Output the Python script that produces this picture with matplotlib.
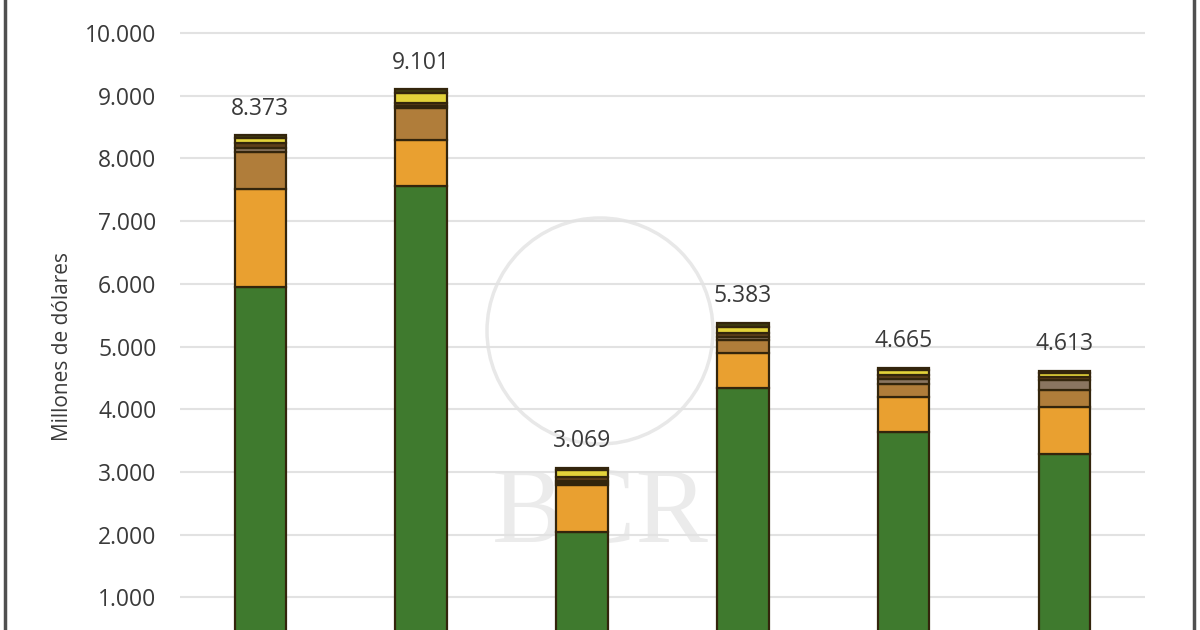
import matplotlib.pyplot as plt
from matplotlib.lines import Line2D
from matplotlib.patches import Ellipse
import numpy as np

plt.rcParams['font.family'] = ['Open Sans', 'DejaVu Sans']

# valores en millones de dólares (de abajo hacia arriba en cada barra)
totales = [8373, 9101, 3069, 5383, 4665, 4613]
verde = [5950, 7560, 2050, 4340, 3640, 3280]
naranja = [1570, 735, 750, 560, 550, 755]
marron = [590, 505, 20, 200, 220, 280]
gris_marron = [60, 40, 30, 50, 70, 150]
marron_osc = [70, 50, 70, 60, 60, 45]
amarillo = [80, 150, 110, 110, 80, 70]
tope = [53, 61, 39, 63, 45, 33]

series = [verde, naranja, marron, gris_marron, marron_osc, amarillo, tope]
colores = ['#3f7a2e', '#e9a030', '#b07d3a', '#8a7560', '#5e3f1a', '#e3d23a', '#3d3a10']
yticks = [1000, 2000, 3000, 4000, 5000, 6000, 7000, 8000, 9000, 10000]


def miles(v):
    return f"{v:,}".replace(",", ".")


fig = plt.figure(figsize=(12, 6.3), dpi=100)
ax = fig.add_axes([0.15, 0.0, 0.804, 1.0])

x = np.arange(len(totales))
base = np.zeros(len(totales))
for vals, col in zip(series, colores):
    ax.bar(x, vals, bottom=base, width=0.32, color=col,
           edgecolor='#33250c', linewidth=1.6, zorder=3)
    base += np.array(vals)

for xi, t in zip(x, totales):
    ax.text(xi, t + 230, miles(t), ha='center', va='bottom',
            fontsize=16.5, color='#3a3a3a', zorder=4)

ax.set_xlim(-0.5, 5.5)
ax.set_ylim(480, 10527)
ax.set_yticks(yticks)
ax.set_yticklabels([miles(v) for v in yticks], fontsize=16.5, color='#3a3a3a')
ax.tick_params(axis='y', length=0, pad=17)
ax.set_xticks([])
ax.grid(axis='y', color='#e2e2e2', linewidth=1.5, zorder=0)
for s in ax.spines.values():
    s.set_visible(False)

# marca de agua (detrás de las barras)
circ = Ellipse((600 / 1200, 1 - 331 / 630), 226 / 1200, 226 / 630,
               transform=fig.transFigure, fill=False, edgecolor='#e8e8e8',
               linewidth=2.5, zorder=1)
ax.add_patch(circ)
ax.text(0.5, 1 - 565 / 630, 'BCR', transform=fig.transFigure, ha='center',
        va='bottom', fontsize=78, family='Liberation Serif', color='#ebebeb',
        zorder=1)

fig.text(0.052, 0.45, 'Millones de dólares', rotation=90, ha='center',
         va='center', fontsize=15, color='#3a3a3a')

# borde
fig.add_artist(Line2D([0.004, 0.004], [0, 1], color='#505050', lw=2.5))
fig.add_artist(Line2D([0.995, 0.995], [0, 1], color='#505050', lw=2.5))

fig.savefig('out.png', dpi=100)
